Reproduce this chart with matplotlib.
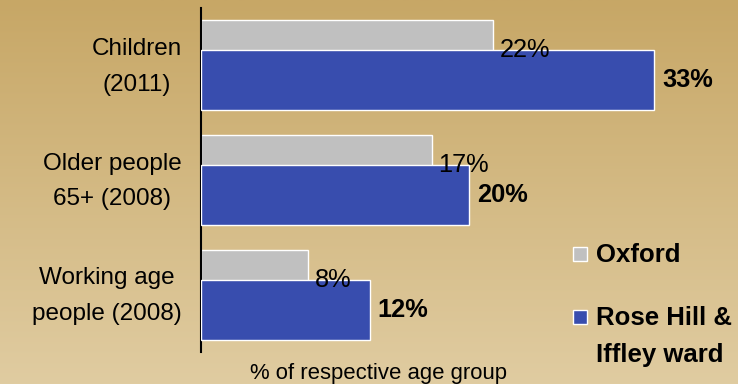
import numpy as np
import matplotlib.pyplot as plt
from matplotlib.patches import Rectangle
from matplotlib.colors import LinearSegmentedColormap

categories = ['Children\n(2011)', 'Older people\n65+ (2008)', 'Working age\npeople (2008)']
oxford = [21.5, 17.0, 7.9]
rose_hill = [33.3, 19.7, 12.4]
oxford_labels = ['22%', '17%', '8%']
rose_hill_labels = ['33%', '20%', '12%']
series_names = ['Oxford', 'Rose Hill &\nIffley ward']

GRAY = '#C0C0C0'
BLUE = '#384DAE'

plt.rcParams['font.family'] = ['Liberation Sans', 'DejaVu Sans']

fig = plt.figure(figsize=(7.38, 3.84), dpi=100)

# gradient background
bg = fig.add_axes([0, 0, 1, 1], zorder=-10)
cmap = LinearSegmentedColormap.from_list('bg', ['#C7A766', '#E0CCA1'])
bg.imshow(np.linspace(0, 1, 256).reshape(-1, 1), aspect='auto', cmap=cmap,
          extent=[0, 1, 0, 1], origin='upper')
bg.axis('off')

W, H = 738, 384
ax = fig.add_axes([201 / W, 1 - 352 / H, 537 / W, 344 / H])
ax.patch.set_alpha(0)

y = np.arange(len(categories))
h = 0.522
off = 0.13
ax.barh(y - off, oxford, height=h, color=GRAY, edgecolor='white', linewidth=1, zorder=2)
ax.barh(y + off, rose_hill, height=h, color=BLUE, edgecolor='white', linewidth=1, zorder=3)

for i in range(len(categories)):
    ax.text(oxford[i] + 0.45, y[i] - off, oxford_labels[i], va='center', ha='left',
            fontsize=18.3, zorder=5)
    ax.text(rose_hill[i] + 0.6, y[i] + off, rose_hill_labels[i], va='center', ha='left',
            fontsize=18.3, fontweight='bold', zorder=5)

# category labels, lines centred on each other
for i, cat in enumerate(categories):
    ax.annotate(cat, xy=(0, y[i]), xycoords=ax.get_yaxis_transform(),
                xytext=(-14, -1), textcoords='offset points',
                ha='right', va='center', multialignment='center',
                fontsize=17.5, linespacing=1.8)

ax.set_xlim(0, 39.5)
ax.set_ylim(2.5, -0.5)
ax.set_yticks([])
ax.set_xticks([])
for s in ['top', 'right', 'bottom']:
    ax.spines[s].set_visible(False)
ax.spines['left'].set_linewidth(1.5)

fig.text(379 / W, 1 - 374 / H, '% of respective age group', ha='center', va='center', fontsize=15.9)

# legend
for col, ypix, name in [(GRAY, 254, series_names[0]), (BLUE, 317, series_names[1])]:
    fig.patches.append(Rectangle((573 / W, 1 - (ypix + 7) / H), 14 / W, 14 / H,
                                 facecolor=col, edgecolor='white', linewidth=1,
                                 transform=fig.transFigure, figure=fig))
    fig.text(596 / W, 1 - (ypix - 11) / H, name, ha='left', va='top', fontsize=18.5,
             fontweight='bold', linespacing=1.7)

fig.savefig('out.png', dpi=100)
